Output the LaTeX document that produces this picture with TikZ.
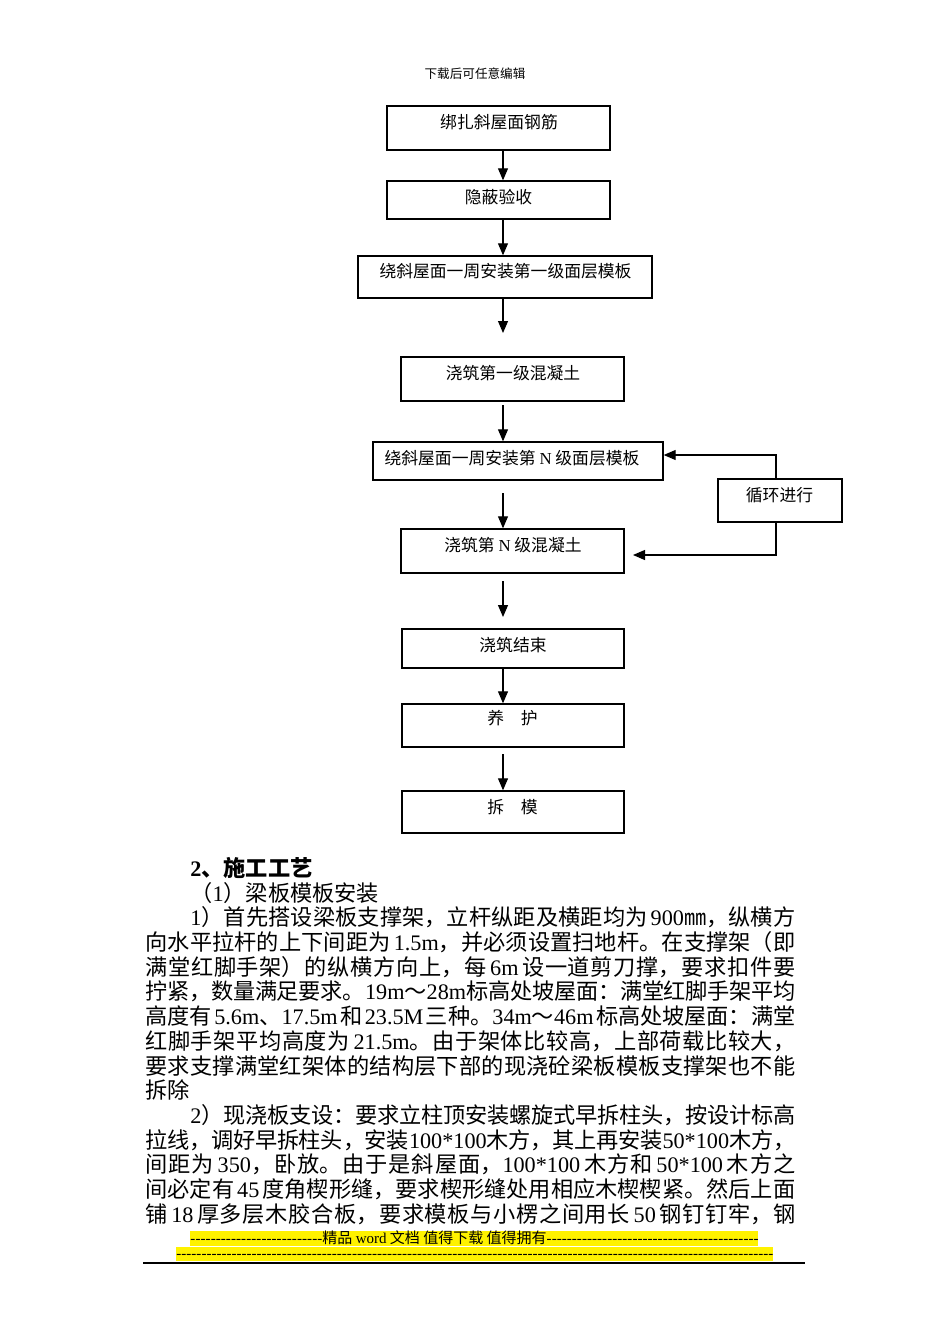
\documentclass[tikz,border=0pt]{standalone}
\usepackage{fontspec}
\setmainfont{Noto Sans CJK SC}
\newfontfamily\latfont{Liberation Serif}
\newcommand\la[1]{{\latfont #1}}
\newcommand\gs{\hskip 1.5pt plus 1pt minus 1.5pt\relax}
\usetikzlibrary{arrows.meta}
\XeTeXlinebreaklocale "zh"
\XeTeXlinebreakskip=0pt plus 1pt minus 0.2pt
\begin{document}
\begin{tikzpicture}[x=0.5pt,y=-0.5pt,
  box/.style={draw, line width=0.7pt, inner sep=0pt},
  lbl/.style={font=\fontsize{8.4pt}{10pt}\selectfont, inner sep=0pt},
  arr/.style={line width=0.55pt, -{Triangle[width=5pt,length=6pt]}},
  body/.style={font=\fontsize{11.1pt}{13pt}\selectfont, inner sep=0pt, anchor=base west},
  jl/.style={body, text width=#1, align=justify, execute at begin node={\parfillskip=0pt\relax\tolerance=10000\relax}},
  foot/.style={font=\fontsize{7.5pt}{9pt}\selectfont, inner sep=0pt, anchor=base west, text height=5.5pt, text depth=1.2pt}]
\useasboundingbox (0,0) rectangle (950,1344);
\fill[white] (0,0) rectangle (950,1344);

\node[font=\fontsize{6.3pt}{7pt}\selectfont, inner sep=0pt] (hdr) at (475,74) {下载后可任意编辑};

% flowchart boxes
\node[box, minimum width=111.5pt, minimum height=22pt] (b1) at (498.5,128) {};
\node[box, minimum width=111.5pt, minimum height=19pt] (b2) at (498.5,200) {};
\node[box, minimum width=147pt, minimum height=21pt] (b3) at (505,277) {};
\node[box, minimum width=111.5pt, minimum height=22pt] (b4) at (512.5,379) {};
\node[box, minimum width=145pt, minimum height=19pt] (b5) at (518,461) {};
\node[box, minimum width=111.5pt, minimum height=22pt] (b6) at (512.5,551) {};
\node[box, minimum width=111pt, minimum height=19.5pt] (b7) at (513,648.5) {};
\node[box, minimum width=111pt, minimum height=21.5pt] (b8) at (513,725.5) {};
\node[box, minimum width=111pt, minimum height=21pt] (b9) at (513,812) {};
\node[box, minimum width=62pt, minimum height=21.5pt] (bl) at (780,500.5) {};

\node[lbl] (t1) at (499,122) {绑扎斜屋面钢筋};
\node[lbl] (t2) at (498.5,197) {隐蔽验收};
\node[lbl] (t3) at (505.5,271) {绕斜屋面一周安装第一级面层模板};
\node[lbl] (t4) at (513,373) {浇筑第一级混凝土};
\node[lbl] (t5) at (512,458) {绕斜屋面一周安装第 \la{N} 级面层模板};
\node[lbl] (t6) at (513,545) {浇筑第 \la{N} 级混凝土};
\node[lbl] (t7) at (513,645) {浇筑结束};
\node[lbl] (t8) at (512.5,718) {养　护};
\node[lbl] (t9) at (512.5,807) {拆　模};
\node[lbl] (tl) at (779.5,495) {循环进行};

% connectors
\coordinate (ax) at (503,0);
\coordinate (e3) at (503,333);
\coordinate (s4) at (503,405);
\coordinate (s5) at (503,493);
\coordinate (s6) at (503,581);
\coordinate (e6) at (503,617);
\coordinate (s8) at (503,754);
\coordinate (lt) at (776,455);
\coordinate (lb) at (776,555);
\coordinate (le) at (633,555);
\draw[arr] (b1.south -| ax) -- (b2.north -| ax);
\draw[arr] (b2.south -| ax) -- (b3.north -| ax);
\draw[arr] (b3.south -| ax) -- (e3);
\draw[arr] (s4) -- (b5.north -| ax);
\draw[arr] (s5) -- (b6.north -| ax);
\draw[arr] (s6) -- (e6);
\draw[arr] (b7.south -| ax) -- (b8.north -| ax);
\draw[arr] (s8) -- (b9.north -| ax);
\draw[arr] (bl.north -| lt) -- (lt) -- (b5.east |- lt);
\draw[arr] (bl.south -| lb) -- (lb) -- (le);

% body text
\node[body] (l0) at (190,876.4) {\textbf{\la{2}、施工工艺}};
\node[body] (l1) at (190,901.1) {（\la{1}）梁板模板安装};
\node[jl=302.5pt] (l2) at (190,925.8) {\la{1}）首先搭设梁板支撑架，立杆纵距及横距均为\gs\la{900}㎜，纵横方};
\node[jl=325pt] (l3) at (145,950.5) {向水平拉杆的上下间距为\gs\la{1.5m}，并必须设置扫地杆。在支撑架（即};
\node[jl=325pt] (l4) at (145,975.2) {满堂红脚手架）的纵横方向上，每\gs\la{6m}\gs 设一道剪刀撑，要求扣件要};
\node[jl=325pt] (l5) at (145,999.9) {拧紧，数量满足要求。\la{19m}～\la{28m}\gs 标高处坡屋面：满堂红脚手架平均};
\node[jl=325pt] (l6) at (145,1024.6) {高度有\gs\la{5.6m}、\la{17.5m}\gs 和\gs\la{23.5M}\gs 三种。\la{34m}～\la{46m}\gs 标高处坡屋面：满堂};
\node[jl=325pt] (l7) at (145,1049.3) {红脚手架平均高度为\gs\la{21.5m}。由于架体比较高，上部荷载比较大，};
\node[jl=325pt] (l8) at (145,1074) {要求支撑满堂红架体的结构层下部的现浇砼梁板模板支撑架也不能};
\node[body] (l9) at (145,1098.7) {拆除};
\node[jl=302.5pt] (l10) at (190,1123.4) {\la{2}）现浇板支设：要求立柱顶安装螺旋式早拆柱头，按设计标高};
\node[jl=325pt] (l11) at (145,1148.1) {拉线，调好早拆柱头，安装\la{100*100}木方，其上再安装\la{50*100}木方，};
\node[jl=325pt] (l12) at (145,1172.8) {间距为\gs\la{350}，卧放。由于是斜屋面，\la{100*100}\gs 木方和\gs\la{50*100}\gs 木方之};
\node[jl=325pt] (l13) at (145,1197.5) {间必定有\gs\la{45}\gs 度角楔形缝，要求楔形缝处用相应木楔楔紧。然后上面};
\node[jl=325pt] (l14) at (145,1222.2) {铺\gs\la{18}\gs 厚多层木胶合板，要求模板与小楞之间用长\gs\la{50}\gs 钢钉钉牢，钢};

% footer
\fill[yellow] (190,1231) rectangle (758,1246);
\fill[yellow] (176,1247) rectangle (773,1261);
\node[foot] (f1) at (190,1243) {\hbox to 66pt{\latfont\xleaders\hbox{-}\hfill}精品 \la{word} 文档 值得下载 值得拥有\hbox to 106pt{\latfont\xleaders\hbox{-}\hfill}};
\node[foot] (f2) at (176,1258) {\hbox to 298.5pt{\latfont\xleaders\hbox{-}\hfill}};
\draw[line width=1pt] (143,1263) -- (805,1263);
\end{tikzpicture}
\end{document}
